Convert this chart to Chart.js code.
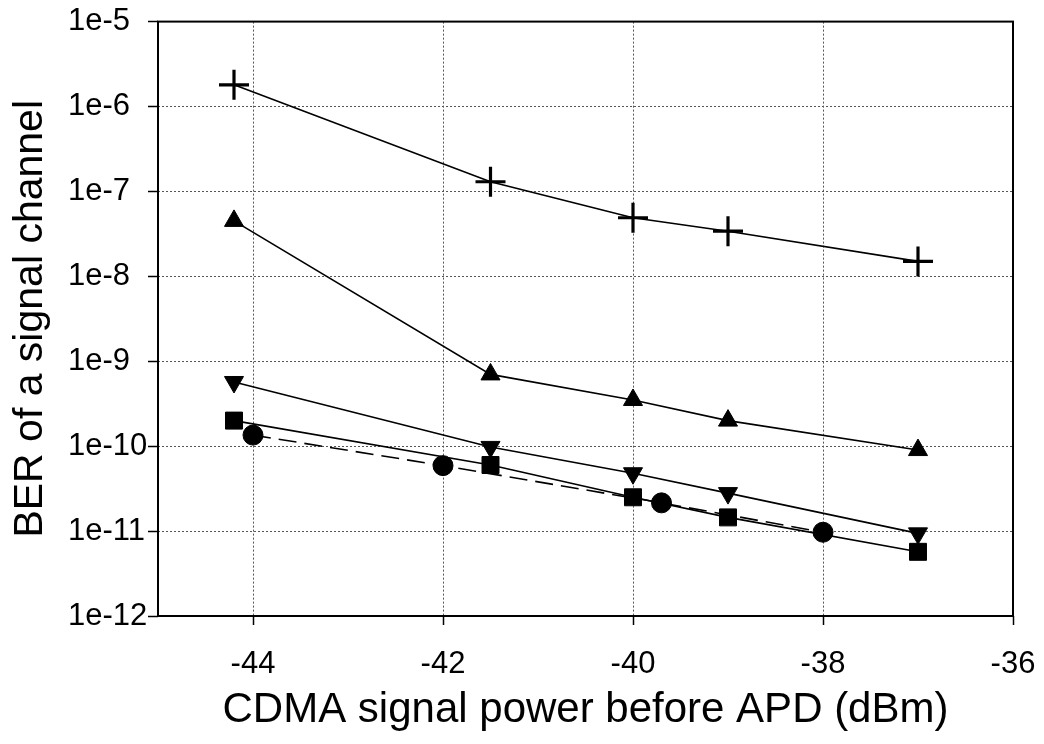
<!DOCTYPE html>
<html>
<head>
<meta charset="utf-8">
<script src="https://cdn.jsdelivr.net/npm/chart.js@4/dist/chart.umd.min.js"></script>
<style>
  body { margin: 0; background: #fff; }
  #wrap { width: 1044px; height: 744px; }
</style>
</head>
<body>
<div id="wrap"><canvas id="berChart" width="1044" height="744"></canvas></div>
<script>
// values
const powerX = [-44.2, -41.5, -40, -39, -37];
const berPlus = [1.8e-6, 1.3e-7, 4.9e-8, 3.4e-8, 1.5e-8];
const berTriUp = [4.5e-8, 7e-10, 3.5e-10, 2.0e-10, 9e-11];
const berTriDown = [5.7e-10, 9.8e-11, 4.8e-11, 2.8e-11, 9.4e-12];
const berSquare = [2.0e-10, 6e-11, 2.5e-11, 1.45e-11, 5.7e-12];
const circleX = [-44, -42, -39.7, -38];
const berCircle = [1.35e-10, 5.9e-11, 2.15e-11, 9.7e-12];

const xTicks = [-44, -42, -40, -38, -36];
const yTicks = [1e-12, 1e-11, 1e-10, 1e-9, 1e-8, 1e-7, 1e-6, 1e-5];

const FONT = '"Liberation Sans", Arial, sans-serif';

function pts(xs, ys) {
  return xs.map((x, i) => ({ x: x, y: ys[i] }));
}

function series(xs, ys, style, extra) {
  return Object.assign({
    data: pts(xs, ys),
    borderColor: "#000",
    backgroundColor: "#000",
    borderWidth: 1.6,
    pointStyle: style,
    pointRadius: 10,
    pointBorderWidth: 1,
    pointBackgroundColor: "#000",
    pointBorderColor: "#000",
    tension: 0,
    fill: false,
  }, extra || {});
}

// black frame around the plot area
const framePlugin = {
  id: "frame",
  beforeDatasetsDraw(chart) {
    const a = chart.chartArea;
    const ctx = chart.ctx;
    ctx.save();
    ctx.strokeStyle = "#000";
    ctx.lineWidth = 2;
    ctx.strokeRect(a.left, a.top, a.right - a.left, a.bottom - a.top);
    ctx.restore();
  },
};

new Chart(document.getElementById("berChart").getContext("2d"), {
  type: "line",
  data: {
    datasets: [
      series(powerX, berPlus, "cross", { pointRadius: 15, pointBorderWidth: 3.2 }),
      series(powerX, berTriUp, "triangle", { pointRadius: 11 }),
      series(powerX, berTriDown, "triangle", { pointRadius: 11, pointRotation: 180 }),
      series(powerX, berSquare, "rect", { pointRadius: 12 }),
      series(circleX, berCircle, "circle", { borderDash: [18, 8] }),
    ],
  },
  options: {
    responsive: false,
    animation: false,
    layout: { padding: { top: 21, right: 31, bottom: 0, left: 0 } },
    plugins: {
      legend: { display: false },
      tooltip: { enabled: false },
      title: {
        display: true,
        position: "left",
        fullSize: false,
        text: "BER of a signal channel",
        color: "#000",
        font: { family: FONT, size: 41, weight: "normal", lineHeight: 1 },
        padding: { top: 10, bottom: 17 },
      },
    },
    scales: {
      x: {
        type: "linear",
        min: -45,
        max: -36,
        afterBuildTicks: (s) => { s.ticks = xTicks.map((v) => ({ value: v })); },
        afterFit: (s) => {
          s.height = 128;
          s.paddingLeft = 0;
          s.paddingRight = 0;
        },
        grid: {
          color: "#555",
          lineWidth: 1,
          tickColor: "#000",
          tickLength: 9,
          tickWidth: 1.5,
          tickBorderDash: [],
        },
        border: { display: false, dash: [2, 2] },
        ticks: {
          color: "#000",
          font: { family: FONT, size: 31 },
          padding: 21,
          maxRotation: 0,
          callback: (v) => String(v),
        },
        title: {
          display: true,
          text: "CDMA signal power before APD (dBm)",
          color: "#000",
          font: { family: FONT, size: 42, lineHeight: 1 },
          padding: { top: 0, bottom: 13 },
        },
      },
      y: {
        type: "logarithmic",
        min: 1e-12,
        max: 1e-5,
        afterBuildTicks: (s) => { s.ticks = yTicks.map((v) => ({ value: v })); },
        afterFit: (s) => { s.width = 90; },
        grid: {
          color: "#555",
          lineWidth: 1,
          tickColor: "#000",
          tickLength: 10,
          tickWidth: 1.5,
          tickBorderDash: [],
        },
        border: { display: false, dash: [2, 2] },
        ticks: {
          color: "#000",
          font: { family: FONT, size: 31 },
          crossAlign: "far",
          callback: (v) => "1e" + Math.round(Math.log10(v)),
        },
      },
    },
  },
  plugins: [framePlugin],
});
</script>
</body>
</html>
